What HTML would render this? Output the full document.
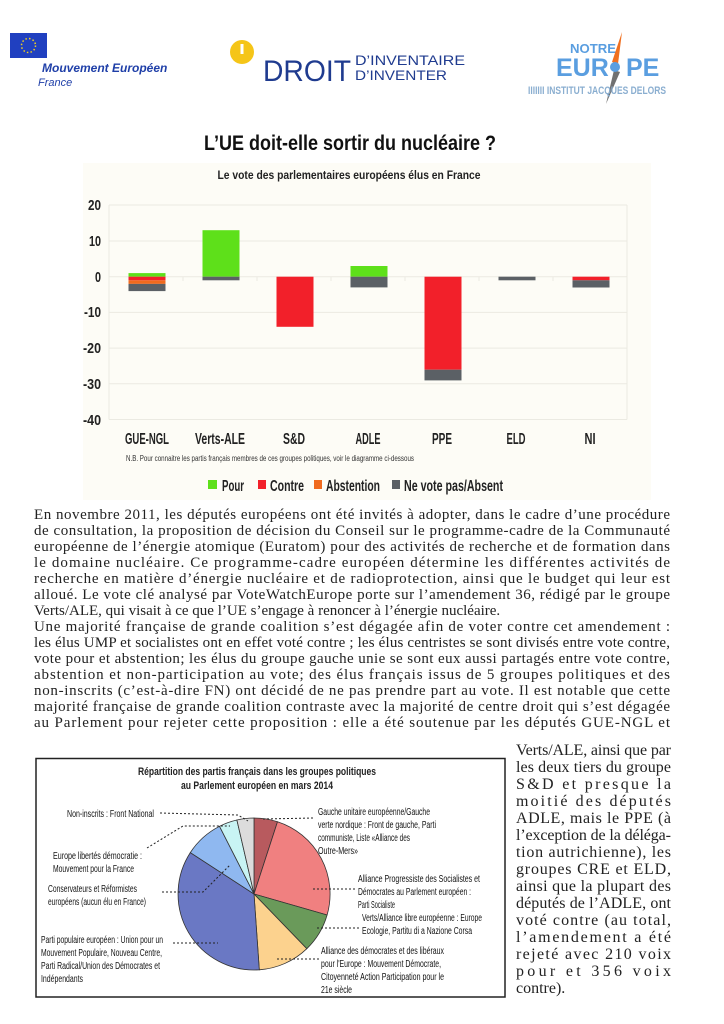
<!DOCTYPE html>
<html><head><meta charset="utf-8"><style>
html,body{margin:0;padding:0;background:#fff;}
svg{display:block;}
.c{font-family:"Liberation Sans Narrow","Liberation Sans",sans-serif;font-weight:bold;}
.cn{font-family:"Liberation Sans Narrow","Liberation Sans",sans-serif;}
.s{font-family:"Liberation Serif","DejaVu Serif",serif;font-size:15px;fill:#222;}
.r{font-family:"Liberation Serif","DejaVu Serif",serif;font-size:16px;fill:#222;}
</style></head><body>
<svg width="724" height="1024" viewBox="0 0 724 1024" xmlns="http://www.w3.org/2000/svg">
<rect x="10" y="33" width="37" height="25" fill="#2040c0"/>
<circle cx="28.5" cy="45.5" r="7" fill="none" stroke="#f0d020" stroke-width="1.5" stroke-dasharray="1.5 2.2"/>
<text x="42" y="72" font-family="Liberation Sans" font-weight="bold" font-style="italic" font-size="12" fill="#1f3fa8">Mouvement Européen</text>
<text x="38" y="86" font-family="Liberation Sans" font-style="italic" font-size="11" fill="#1f3fa8">France</text>
<circle cx="242" cy="52" r="12" fill="#f5c518"/>
<rect x="240.5" y="44" width="3" height="10" fill="#fff"/>
<text x="263" y="81" class="cn" font-size="30" fill="#1f3b8f" textLength="88" lengthAdjust="spacingAndGlyphs">DROIT</text>
<text x="355" y="65" class="cn" font-size="14" fill="#1f3b8f" textLength="110" lengthAdjust="spacingAndGlyphs">D’INVENTAIRE</text>
<text x="355" y="80" class="cn" font-size="14" fill="#1f3b8f" textLength="92" lengthAdjust="spacingAndGlyphs">D’INVENTER</text>
<text x="570" y="53" class="c" font-size="13" fill="#5a9ee0" textLength="46" lengthAdjust="spacingAndGlyphs">NOTRE</text>
<text x="556" y="76" class="c" font-size="25" fill="#5a9ee0">EUR</text>
<text x="626" y="76" class="c" font-size="25" fill="#5a9ee0">PE</text>
<polygon points="622,32 612,62 618,64" fill="#f07020"/>
<polygon points="614,70 620,72 606,104" fill="#707070"/>
<circle cx="615" cy="67" r="5" fill="#5a9ee0"/>
<text x="528" y="94" class="c" font-size="11" fill="#8aaed0" textLength="138" lengthAdjust="spacingAndGlyphs">IIIIIII INSTITUT   JACQUES DELORS</text>
<text x="350" y="150" text-anchor="middle" class="c" font-size="21" fill="#111" textLength="292" lengthAdjust="spacingAndGlyphs">L’UE doit-elle sortir du nucléaire ?</text>
<rect x="83" y="163" width="568" height="337" fill="#fdfcf6"/>
<text x="349" y="179" text-anchor="middle" class="c" font-size="12" fill="#222" textLength="263" lengthAdjust="spacingAndGlyphs">Le vote des parlementaires européens élus en France</text>
<g stroke="#ebeae2" stroke-width="1">
<line x1="109" y1="205" x2="627" y2="205"/><line x1="109" y1="241" x2="627" y2="241"/>
<line x1="109" y1="276.7" x2="627" y2="276.7"/><line x1="109" y1="312.4" x2="627" y2="312.4"/>
<line x1="109" y1="348.1" x2="627" y2="348.1"/><line x1="109" y1="383.8" x2="627" y2="383.8"/>
<line x1="109" y1="419.5" x2="627" y2="419.5"/>
<line x1="109" y1="205" x2="109" y2="419.5"/><line x1="627" y1="205" x2="627" y2="419.5"/>
<line x1="183" y1="276.7" x2="183" y2="281"/><line x1="257" y1="276.7" x2="257" y2="281"/><line x1="331" y1="276.7" x2="331" y2="281"/><line x1="405" y1="276.7" x2="405" y2="281"/><line x1="479" y1="276.7" x2="479" y2="281"/><line x1="553" y1="276.7" x2="553" y2="281"/>
</g>
<g class="c" font-size="15" fill="#222" text-anchor="end">
<text x="101" y="210" textLength="13" lengthAdjust="spacingAndGlyphs">20</text><text x="101" y="246" textLength="12" lengthAdjust="spacingAndGlyphs">10</text><text x="101" y="282" textLength="6" lengthAdjust="spacingAndGlyphs">0</text>
<text x="101" y="317" textLength="17" lengthAdjust="spacingAndGlyphs">-10</text><text x="101" y="353" textLength="18" lengthAdjust="spacingAndGlyphs">-20</text><text x="101" y="389" textLength="18" lengthAdjust="spacingAndGlyphs">-30</text><text x="101" y="425" textLength="18" lengthAdjust="spacingAndGlyphs">-40</text>
</g>
<g>
<rect x="128.5" y="273.1" width="37" height="3.6" fill="#5ee01a"/>
<rect x="128.5" y="276.7" width="37" height="3.6" fill="#f2202a"/>
<rect x="128.5" y="280.3" width="37" height="3.6" fill="#f06a1e"/>
<rect x="128.5" y="283.9" width="37" height="7.2" fill="#5b6065"/>
<rect x="202.5" y="230.2" width="37" height="46.5" fill="#5ee01a"/>
<rect x="202.5" y="276.7" width="37" height="3.6" fill="#5b6065"/>
<rect x="276.5" y="276.7" width="37" height="50.1" fill="#f2202a"/>
<rect x="350.5" y="266" width="37" height="10.7" fill="#5ee01a"/>
<rect x="350.5" y="276.7" width="37" height="10.7" fill="#5b6065"/>
<rect x="424.5" y="276.7" width="37" height="93" fill="#f2202a"/>
<rect x="424.5" y="369.7" width="37" height="10.7" fill="#5b6065"/>
<rect x="498.5" y="276.7" width="37" height="3.6" fill="#5b6065"/>
<rect x="572.5" y="276.7" width="37" height="3.6" fill="#f2202a"/>
<rect x="572.5" y="280.3" width="37" height="7.2" fill="#5b6065"/>
</g>
<g class="c" font-size="16" fill="#222" text-anchor="middle">
<text x="147" y="444" textLength="44" lengthAdjust="spacingAndGlyphs">GUE-NGL</text><text x="220" y="444" textLength="50" lengthAdjust="spacingAndGlyphs">Verts-ALE</text><text x="294" y="444" textLength="22" lengthAdjust="spacingAndGlyphs">S&amp;D</text>
<text x="368" y="444" textLength="25" lengthAdjust="spacingAndGlyphs">ADLE</text><text x="442" y="444" textLength="20" lengthAdjust="spacingAndGlyphs">PPE</text><text x="516" y="444" textLength="19" lengthAdjust="spacingAndGlyphs">ELD</text><text x="590" y="444" textLength="11" lengthAdjust="spacingAndGlyphs">NI</text>
</g>
<text x="126" y="461" class="cn" font-size="8" fill="#333" textLength="288" lengthAdjust="spacingAndGlyphs">N.B. Pour connaitre les partis français membres de ces groupes politiques, voir le diagramme ci-dessous</text>
<g class="c" font-size="16" fill="#222">
<rect x="208" y="480" width="9" height="9" fill="#5ee01a"/><text x="222" y="491" textLength="22" lengthAdjust="spacingAndGlyphs">Pour</text>
<rect x="258" y="480" width="8" height="9" fill="#f2202a"/><text x="270" y="491" textLength="34" lengthAdjust="spacingAndGlyphs">Contre</text>
<rect x="314" y="480" width="8" height="9" fill="#f06a1e"/><text x="326" y="491" textLength="54" lengthAdjust="spacingAndGlyphs">Abstention</text>
<rect x="392" y="480" width="8" height="9" fill="#5b6065"/><text x="404" y="491" textLength="99" lengthAdjust="spacingAndGlyphs">Ne vote pas/Absent</text>
</g>
<g class="s" lengthAdjust="spacing">
<text x="34" y="519" textLength="636">En novembre 2011, les députés européens ont été invités à adopter, dans le cadre d’une procédure</text>
<text x="34" y="535" textLength="636">de consultation, la proposition de décision du Conseil sur le programme-cadre de la Communauté</text>
<text x="34" y="551" textLength="636">européenne de l’énergie atomique (Euratom) pour des activités de recherche et de formation dans</text>
<text x="34" y="567" textLength="636">le domaine nucléaire. Ce programme-cadre européen détermine les différentes activités de</text>
<text x="34" y="583" textLength="636">recherche en matière d’énergie nucléaire et de radioprotection, ainsi que le budget qui leur est</text>
<text x="34" y="599" textLength="636">alloué. Le vote clé analysé par VoteWatchEurope porte sur l’amendement 36, rédigé par le groupe</text>
<text x="34" y="615">Verts/ALE, qui visait à ce que l’UE s’engage à renoncer à l’énergie nucléaire.</text>
<text x="34" y="631" textLength="636">Une majorité française de grande coalition s’est dégagée afin de voter contre cet amendement :</text>
<text x="34" y="647" textLength="636">les élus UMP et socialistes ont en effet voté contre ; les élus centristes se sont divisés entre vote contre,</text>
<text x="34" y="663" textLength="636">vote pour et abstention; les élus du groupe gauche unie se sont eux aussi partagés entre vote contre,</text>
<text x="34" y="679" textLength="636">abstention et non-participation au vote; des élus français issus de 5 groupes politiques et des</text>
<text x="34" y="695" textLength="636">non-inscrits (c’est-à-dire FN) ont décidé de ne pas prendre part au vote. Il est notable que cette</text>
<text x="34" y="711" textLength="636">majorité française de grande coalition contraste avec la majorité de centre droit qui s’est dégagée</text>
<text x="34" y="727" textLength="636">au Parlement pour rejeter cette proposition : elle a été soutenue par les députés GUE-NGL et</text>
</g>
<g class="r" lengthAdjust="spacing">
<text x="516" y="755" textLength="155">Verts/ALE, ainsi que par</text>
<text x="516" y="772" textLength="155">les deux tiers du groupe</text>
<text x="516" y="789" textLength="155">S&amp;D et presque la</text>
<text x="516" y="806" textLength="155">moitié des députés</text>
<text x="516" y="823" textLength="155">ADLE, mais le PPE (à</text>
<text x="516" y="840" textLength="155">l’exception de la déléga-</text>
<text x="516" y="857" textLength="155">tion autrichienne), les</text>
<text x="516" y="874" textLength="155">groupes CRE et ELD,</text>
<text x="516" y="891" textLength="155">ainsi que la plupart des</text>
<text x="516" y="908" textLength="155">députés de l’ADLE, ont</text>
<text x="516" y="925" textLength="155">voté contre (au total,</text>
<text x="516" y="942" textLength="155">l’amendement a été</text>
<text x="516" y="959" textLength="155">rejeté avec 210 voix</text>
<text x="516" y="976" textLength="155">pour et 356 voix</text>
<text x="516" y="993">contre).</text>
</g>
<rect x="36" y="758.5" width="469" height="238.5" fill="#fff" stroke="#222" stroke-width="1.5"/>
<text x="257" y="775" text-anchor="middle" class="c" font-size="11" fill="#222" textLength="238" lengthAdjust="spacingAndGlyphs">Répartition des partis français dans les groupes politiques</text>
<text x="257" y="789" text-anchor="middle" class="c" font-size="11" fill="#222" textLength="152" lengthAdjust="spacingAndGlyphs">au Parlement européen en mars 2014</text>
<g stroke="#333" stroke-width="0.8">
<path d="M254,894 L254,818 A76,76 0 0 1 277.5,821.7 Z" fill="#b85a5e"/>
<path d="M254,894 L277.5,821.7 A76,76 0 0 1 327.1,915 Z" fill="#f08080"/>
<path d="M254,894 L327.1,915 A76,76 0 0 1 306.8,948.7 Z" fill="#6a9a5a"/>
<path d="M254,894 L306.8,948.7 A76,76 0 0 1 259.3,969.8 Z" fill="#fcd28e"/>
<path d="M254,894 L259.3,969.8 A76,76 0 0 1 190.3,852.6 Z" fill="#6a78c4"/>
<path d="M254,894 L190.3,852.6 A76,76 0 0 1 219.5,826.3 Z" fill="#8fb8f0"/>
<path d="M254,894 L219.5,826.3 A76,76 0 0 1 236.9,820 Z" fill="#c8f4f4"/>
<path d="M254,894 L236.9,820 A76,76 0 0 1 254,818 Z" fill="#dcdcdc"/>
</g>
<g stroke="#222" stroke-width="1" stroke-dasharray="2 2" fill="none">
<polyline points="160,813 238,815 248,821"/>
<polyline points="263,819 314,818"/>
<polyline points="147,848 183,826 230,826"/>
<polyline points="162,892 203,892 230,865"/>
<polyline points="313,889 355,889"/>
<polyline points="317,928 360,928"/>
<polyline points="173,943 218,943"/>
<polyline points="277,959 320,959"/>
</g>
<g class="cn" font-size="10" fill="#111">
<text x="67" y="817" textLength="87" lengthAdjust="spacingAndGlyphs">Non-inscrits : Front National</text>
<text x="318" y="815" textLength="112" lengthAdjust="spacingAndGlyphs">Gauche unitaire européenne/Gauche</text>
<text x="318" y="828" textLength="118" lengthAdjust="spacingAndGlyphs">verte nordique : Front de gauche, Parti</text>
<text x="318" y="841" textLength="92" lengthAdjust="spacingAndGlyphs">communiste, Liste «Alliance des</text>
<text x="318" y="854" textLength="40" lengthAdjust="spacingAndGlyphs">Outre-Mers»</text>
<text x="53" y="859" textLength="89" lengthAdjust="spacingAndGlyphs">Europe libertés démocratie :</text>
<text x="53" y="872" textLength="81" lengthAdjust="spacingAndGlyphs">Mouvement pour la France</text>
<text x="48" y="892" textLength="89" lengthAdjust="spacingAndGlyphs">Conservateurs et Réformistes</text>
<text x="48" y="905" textLength="98" lengthAdjust="spacingAndGlyphs">européens (aucun élu en France)</text>
<text x="358" y="882" textLength="122" lengthAdjust="spacingAndGlyphs">Alliance Progressiste des Socialistes et</text>
<text x="358" y="895" textLength="113" lengthAdjust="spacingAndGlyphs">Démocrates au Parlement européen :</text>
<text x="358" y="908" textLength="37" lengthAdjust="spacingAndGlyphs">Parti Socialiste</text>
<text x="362" y="921" textLength="120" lengthAdjust="spacingAndGlyphs">Verts/Alliance libre européenne : Europe</text>
<text x="362" y="934" textLength="110" lengthAdjust="spacingAndGlyphs">Ecologie, Partitu di a Nazione Corsa</text>
<text x="41" y="943" textLength="122" lengthAdjust="spacingAndGlyphs">Parti populaire européen : Union pour un</text>
<text x="41" y="956" textLength="121" lengthAdjust="spacingAndGlyphs">Mouvement Populaire, Nouveau Centre,</text>
<text x="41" y="969" textLength="119" lengthAdjust="spacingAndGlyphs">Parti Radical/Union des Démocrates et</text>
<text x="41" y="982" textLength="42" lengthAdjust="spacingAndGlyphs">Indépendants</text>
<text x="321" y="954" textLength="123" lengthAdjust="spacingAndGlyphs">Alliance des démocrates et des libéraux</text>
<text x="321" y="967" textLength="120" lengthAdjust="spacingAndGlyphs">pour l'Europe : Mouvement Démocrate,</text>
<text x="321" y="980" textLength="123" lengthAdjust="spacingAndGlyphs">Citoyenneté Action Participation pour le</text>
<text x="321" y="993" textLength="31" lengthAdjust="spacingAndGlyphs">21e siècle</text>
</g>
</svg>
</body></html>
